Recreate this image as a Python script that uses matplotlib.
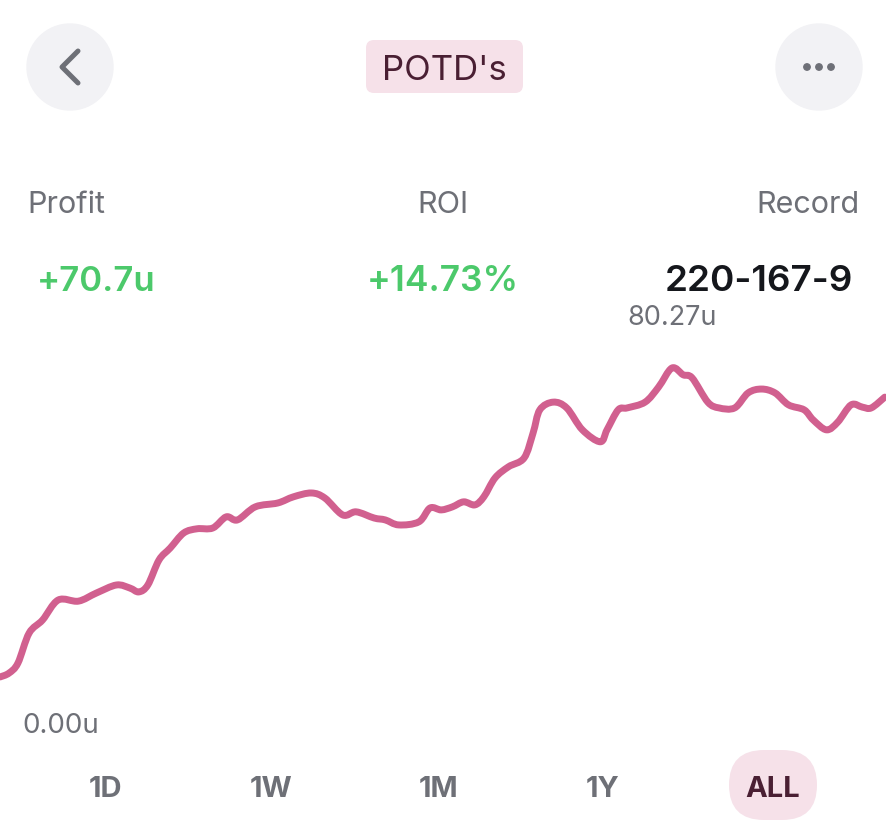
"""
POTD's profit screen: cumulative units over all bets, app-style layout.
"""
import matplotlib
matplotlib.use("Agg")
import matplotlib.pyplot as plt
from matplotlib.patches import Circle, FancyBboxPatch, PathPatch
from matplotlib.path import Path

plt.rcParams["font.family"] = ["Inter", "DejaVu Sans"]

# ── Data ─────────────────────────────────────────────────────────────────────
bets = [0, 4, 8, 13, 19, 26, 35, 43, 52, 58, 62, 66, 71, 76, 82, 88, 95, 101,
        106, 114, 124, 131, 139, 145, 153, 159, 167, 172, 178, 187, 192, 197,
        202, 207, 212, 216, 221, 227, 234, 238, 241, 247, 253, 260, 268, 271,
        276, 280, 288, 294, 300, 305, 309, 316, 321, 328, 334, 340, 346, 352,
        359, 363, 369, 374, 380, 385, 389, 395]
units = [0.0, 1.0, 3.6, 11.4, 14.8, 20.0, 19.7, 21.8, 23.9, 23.1, 22.1, 23.9,
         30.4, 33.5, 37.4, 38.5, 38.7, 41.6, 40.8, 44.2, 45.2, 46.8, 47.8,
         46.5, 42.1, 42.9, 41.3, 40.8, 39.5, 40.3, 43.9, 43.4, 44.2, 45.5,
         44.7, 46.8, 51.7, 54.6, 56.9, 63.4, 69.4, 71.4, 69.9, 64.2, 61.1,
         64.2, 69.4, 69.9, 71.4, 75.3, 80.27, 78.5, 77.7, 71.4, 69.9, 69.9,
         73.8, 74.8, 73.8, 70.7, 69.4, 66.8, 64.2, 66.2, 70.7, 70.1, 69.9, 72.7]

title = "POTD's"
stat_labels = ["Profit", "ROI", "Record"]
stat_values = ["+70.7u", "+14.73%", "220-167-9"]
ranges = ["1D", "1W", "1M", "1Y", "ALL"]
active_range = "ALL"

W, H = 887, 839
PINK = "#D1608F"
PINK_BG = "#F6E1E9"
PLUM = "#4A1F33"
GREY = "#6E7077"
GREEN = "#4CC96B"
BTN = "#F2F2F5"


def smooth_path(xs, ys, t=0.5):
    # Catmull-Rom curve through the points, as cubic Bezier segments
    verts = [(xs[0], ys[0])]
    codes = [Path.MOVETO]
    n = len(xs)
    for i in range(n - 1):
        x0, y0 = (xs[i - 1], ys[i - 1]) if i > 0 else (xs[i], ys[i])
        x1, y1 = xs[i], ys[i]
        x2, y2 = xs[i + 1], ys[i + 1]
        x3, y3 = (xs[i + 2], ys[i + 2]) if i + 2 < n else (x2, y2)
        c1 = (x1 + (x2 - x0) * t / 3, y1 + (y2 - y0) * t / 3)
        c2 = (x2 - (x3 - x1) * t / 3, y2 - (y3 - y1) * t / 3)
        verts += [c1, c2, (x2, y2)]
        codes += [Path.CURVE4] * 3
    return Path(verts, codes)


fig = plt.figure(figsize=(W / 100, H / 100), dpi=100)
fig.patch.set_facecolor("white")

# ── Chart ────────────────────────────────────────────────────────────────────
top_px, bot_px = 340, 700
ax = fig.add_axes([0, 1 - bot_px / H, 1, (bot_px - top_px) / H])
ax.add_patch(PathPatch(smooth_path(bets, units, t=0.5), fc="none", ec=PINK,
                       lw=5.0, joinstyle="round", capstyle="round", zorder=3))
ax.set_xlim(0, 396)
ax.set_ylim(-5.98, 87.54)
ax.axis("off")

i_max = units.index(max(units))
ax.annotate(f"{units[i_max]:.2f}u", (bets[i_max], units[i_max]),
            xytext=(0, 43), textcoords="offset pixels", ha="center",
            va="baseline", fontsize=19.5, color=GREY)
ax.annotate(f"{min(units):.2f}u", (0, min(units)), xytext=(22, -56),
            textcoords="offset pixels", ha="left", va="baseline",
            fontsize=20, color=GREY)

# ── Header / overlay in pixel coordinates ────────────────────────────────────
ov = fig.add_axes([0, 0, 1, 1], zorder=0)
ov.set_xlim(0, W)
ov.set_ylim(H, 0)
ov.axis("off")
ov.patch.set_alpha(0)

for cx in (70, 819):
    ov.add_patch(Circle((cx, 67), 43, color=BTN, zorder=1))
ov.plot([78, 62, 78], [51, 67, 83], color=GREY, lw=3.6,
        solid_capstyle="round", solid_joinstyle="round", zorder=2)
for dx in (-12, 0, 12):
    ov.add_patch(Circle((819 + dx, 67), 3.2, color=GREY, zorder=2))

ov.add_patch(FancyBboxPatch((374, 48), 141, 37, boxstyle="round,pad=8",
                            fc=PINK_BG, ec="none", zorder=1))
ov.text(444.5, 80, title, ha="center", va="baseline", fontsize=25,
        color=PLUM, zorder=2)

stat_x = [27, 443, 860]
stat_ha = ["left", "center", "right"]
val_x = [37, 443, 853]
val_sizes = [25, 25.5, 26.5]
val_colors = [GREEN, GREEN, "#15171C"]
for lab, val, sx, vx, ha, c, fs in zip(stat_labels, stat_values, stat_x,
                                       val_x, stat_ha, val_colors, val_sizes):
    ov.text(sx, 213, lab, ha=ha, va="baseline", fontsize=22, color=GREY)
    ov.text(vx, 291, val, ha=ha, va="baseline", fontsize=fs, color=c,
            fontweight="semibold")

range_x = [105, 271, 439, 603, 773]
for r, rx in zip(ranges, range_x):
    if r == active_range:
        ov.add_patch(FancyBboxPatch((rx - 44, 750), 88, 70,
                                    boxstyle="round,pad=0,rounding_size=35",
                                    fc=PINK_BG, ec="none", zorder=1))
    ov.text(rx, 797, r, ha="center", va="baseline", fontsize=21,
            fontweight="bold", color=PLUM if r == active_range else GREY,
            zorder=2)

fig.savefig("out.png", dpi=100, facecolor="white")
